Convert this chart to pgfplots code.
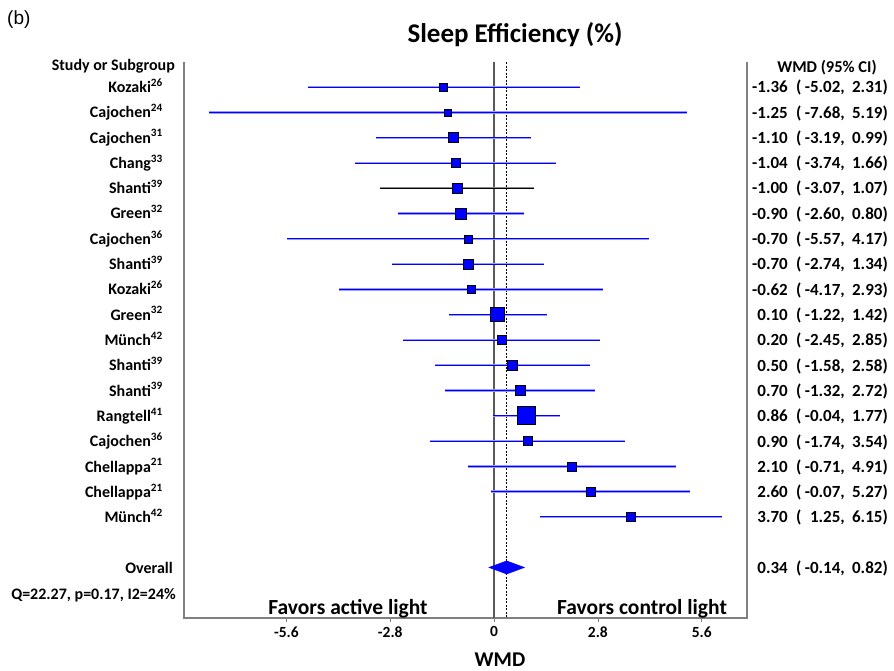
\documentclass[border=0pt]{standalone}
\usepackage{pgfplots}
\pgfplotsset{compat=1.18}
\usepackage{pgfplotstable}
\usepackage{fontspec}
\setmainfont{Carlito}
\newfontfamily\arialfont{Liberation Sans}

\pgfplotstableread{
y wmd lo hi s
1 -1.36 -5.02 2.31 4
2 -1.25 -7.68 5.19 3.5
3 -1.10 -3.19 0.99 5
4 -1.04 -3.74 1.66 4.5
6 -0.90 -2.60 0.80 5.5
7 -0.70 -5.57 4.17 4
8 -0.70 -2.74 1.34 5
9 -0.62 -4.17 2.93 4
10 0.10 -1.22 1.42 7
11 0.20 -2.45 2.85 4.5
12 0.50 -1.58 2.58 5
13 0.70 -1.32 2.72 5
14 0.86 -0.04 1.77 9
15 0.90 -1.74 3.54 4.5
16 2.10 -0.71 4.91 4.5
17 2.60 -0.07 5.27 4.5
18 3.70 1.25 6.15 4.5
}\blueT

\pgfplotstableread{
y wmd lo hi s
5 -1.00 -3.07 1.07 5
}\blackT

\begin{document}
\begin{tikzpicture}[x=1pt,y=1pt]
\path[use as bounding box] (0,0) rectangle (894,670);
\begin{axis}[
  at={(184pt,52pt)}, anchor=south west,
  scale only axis, width=563pt, height=556pt,
  xmin=-8.36, xmax=6.82, ymin=0, ymax=22, y dir=reverse,
  axis line style={draw=none},
  xtick={-5.6,-2.8,0,2.8,5.6},
  xticklabels={-5.6,-2.8,0,2.8,5.6},
  xtick pos=bottom, ytick=\empty,
  tick align=outside, major tick length=4pt,
  xtick style={gray, line width=0.8pt},
  x tick label style={font=\bfseries\fontsize{15.5}{18}\selectfont, yshift=-1pt},
  /pgf/number format/assume math mode=true,
  clip=false,
]
% axis frame (left, right, bottom)
\draw[gray, line width=1.4pt] (rel axis cs:0,1) -- (rel axis cs:0,0) -- (rel axis cs:1,0) -- (rel axis cs:1,1);
% reference lines
\addplot[gray!70!black, line width=1.4pt, mark=none] coordinates {(0,0) (0,22)};
\addplot[black, line width=0.7pt, dash pattern=on 2pt off 1.5pt, mark=none] coordinates {(0.34,0) (0.34,22)};
% confidence intervals (soft halo + core, as in the reference)
\addplot[blue!40, line width=2.4pt, mark=none, -, quiver={u=\thisrow{hi}-\thisrow{lo}, v=0}]
  table[x=lo, y=y] {\blueT};
\addplot[blue, line width=1pt, mark=none, -, quiver={u=\thisrow{hi}-\thisrow{lo}, v=0}]
  table[x=lo, y=y] {\blueT};
\addplot[black!45, line width=2.2pt, mark=none, -, quiver={u=\thisrow{hi}-\thisrow{lo}, v=0}]
  table[x=lo, y=y] {\blackT};
\addplot[black, line width=1pt, mark=none, -, quiver={u=\thisrow{hi}-\thisrow{lo}, v=0}]
  table[x=lo, y=y] {\blackT};
% point estimates
\addplot[scatter, only marks, mark=square*,
  scatter/use mapped color={draw=black, fill=blue},
  mark options={line width=0.7pt},
  visualization depends on={\thisrow{s} \as \msize},
  scatter/@pre marker code/.append style={/tikz/mark size=\msize}]
  table[x=wmd, y=y] {\blueT};
\addplot[scatter, only marks, mark=square*,
  scatter/use mapped color={draw=black, fill=blue},
  mark options={line width=0.7pt},
  visualization depends on={\thisrow{s} \as \msize},
  scatter/@pre marker code/.append style={/tikz/mark size=\msize}]
  table[x=wmd, y=y] {\blackT};
% overall diamond
\addplot[fill=blue, draw=blue, line width=0.4pt] coordinates {(-0.14,20) (0.34,19.74) (0.82,20) (0.34,20.26)} -- cycle;
\end{axis}

% left labels
\foreach \i/\n in {1/Kozaki\textsuperscript{26},2/Cajochen\textsuperscript{24},3/Cajochen\textsuperscript{31},4/Chang\textsuperscript{33},5/Shanti\textsuperscript{39},6/Green\textsuperscript{32},7/Cajochen\textsuperscript{36},8/Shanti\textsuperscript{39},9/Kozaki\textsuperscript{26},10/Green\textsuperscript{32},11/Münch\textsuperscript{42},12/Shanti\textsuperscript{39},13/Shanti\textsuperscript{39},14/Rangtell\textsuperscript{41},15/Cajochen\textsuperscript{36},16/Chellappa\textsuperscript{21},17/Chellappa\textsuperscript{21},18/Münch\textsuperscript{42}}
  \node[anchor=base east, inner sep=0pt, font=\bfseries\fontsize{16}{19}\selectfont] at (163, {583-(\i-1)*25.3-5.5}) {\n};

% right column
\foreach \i/\w/\l/\h in {1/-1.36/-5.02/2.31,2/-1.25/-7.68/5.19,3/-1.10/-3.19/0.99,4/-1.04/-3.74/1.66,5/-1.00/-3.07/1.07,6/-0.90/-2.60/0.80,7/-0.70/-5.57/4.17,8/-0.70/-2.74/1.34,9/-0.62/-4.17/2.93,10/0.10/-1.22/1.42,11/0.20/-2.45/2.85,12/0.50/-1.58/2.58,13/0.70/-1.32/2.72,14/0.86/-0.04/1.77,15/0.90/-1.74/3.54,16/2.10/-0.71/4.91,17/2.60/-0.07/5.27,18/3.70/1.25/6.15,20/0.34/-0.14/0.82}
{
  \pgfmathsetmacro{\yy}{583-(\i-1)*25.3-5.8}
  \begin{scope}[every node/.style={inner sep=0pt, font=\bfseries\fontsize{17}{20}\selectfont}]
  \node[anchor=base east] at (788, \yy) {\w};
  \node[anchor=base west] at (796, \yy) {(};
  \node[anchor=base east] at (845, \yy) {\l,};
  \node[anchor=base east] at (888, \yy) {\h)};
  \end{scope}
}

\node[anchor=base, inner sep=0pt, font=\bfseries\fontsize{16.5}{19}\selectfont] at (827, 670-67-5.5) {WMD (95\% CI)};
\node[anchor=base east, inner sep=0pt, font=\bfseries\fontsize{16}{19}\selectfont] at (175, 670-65-5.5) {Study or Subgroup};
\node[anchor=base east, inner sep=0pt, font=\bfseries\fontsize{16}{19}\selectfont] at (173, 670-568-5.5) {Overall};
\node[anchor=base east, inner sep=0pt, font=\bfseries\fontsize{16}{19}\selectfont] at (176, 670-594-5.5) {Q=22.27, p=0.17, I2=24\%};

\node[inner sep=0pt, font=\bfseries\fontsize{27}{32}\selectfont] at (515, 670-35) {Sleep Efficiency (\%)};
\node[anchor=west, inner sep=0pt, font=\arialfont\fontsize{19}{22}\selectfont] at (7, 670-20) {(b)};
\node[inner sep=0pt, font=\bfseries\fontsize{21.5}{25}\selectfont] at (348, 670-609) {Favors active light};
\node[inner sep=0pt, font=\bfseries\fontsize{21.5}{25}\selectfont] at (642, 670-609) {Favors control light};
\node[anchor=base, inner sep=0pt, font=\bfseries\fontsize{21}{25}\selectfont] at (500, 3.5) {WMD};
\end{tikzpicture}
\end{document}
